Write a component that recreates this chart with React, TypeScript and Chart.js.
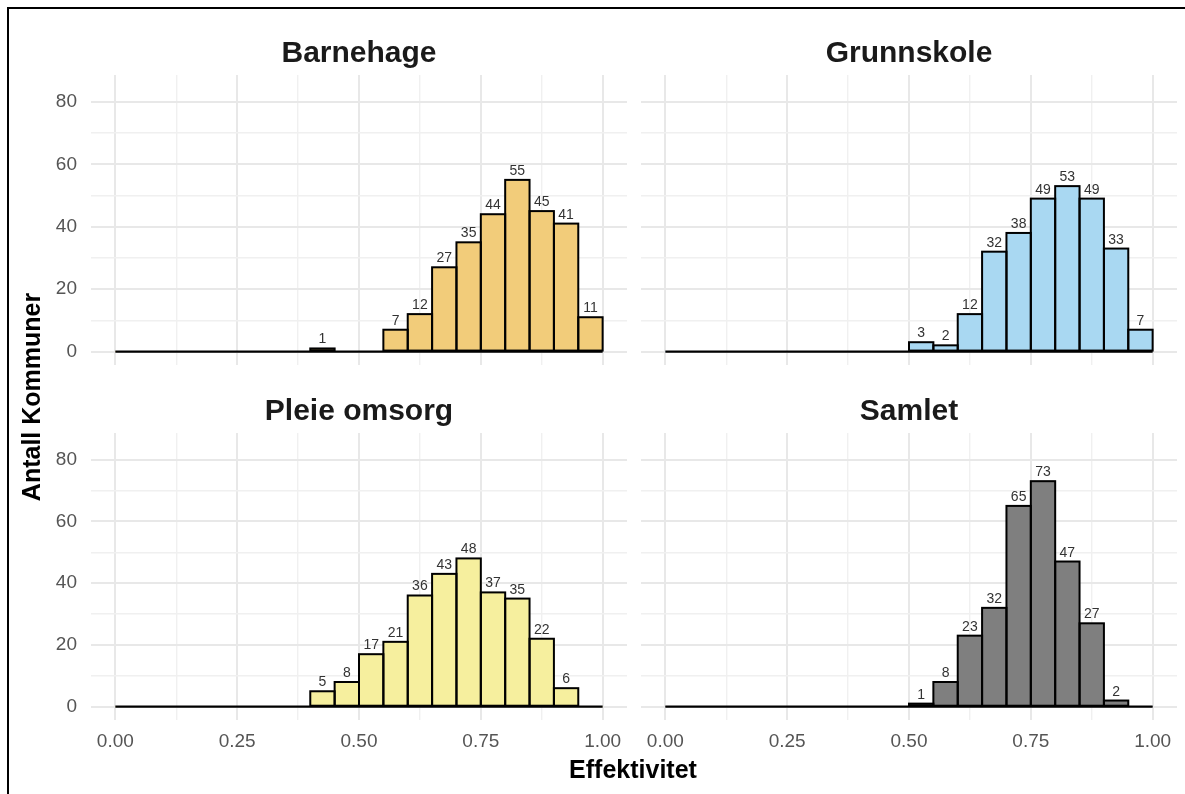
import React, { useEffect, useRef } from "react";
import { Chart, registerables } from "chart.js";

Chart.register(...registerables);

// ---------- data ----------
const binStart = [
  0.0, 0.05, 0.1, 0.15, 0.2, 0.25, 0.3, 0.35, 0.4, 0.45,
  0.5, 0.55, 0.6, 0.65, 0.7, 0.75, 0.8, 0.85, 0.9, 0.95,
];
const binWidth = 0.05;

const barnehageCounts = [0, 0, 0, 0, 0, 0, 0, 0, 1, 0, 0, 7, 12, 27, 35, 44, 55, 45, 41, 11];
const grunnskoleCounts = [0, 0, 0, 0, 0, 0, 0, 0, 0, 0, 3, 2, 12, 32, 38, 49, 53, 49, 33, 7];
const pleieOmsorgCounts = [0, 0, 0, 0, 0, 0, 0, 0, 5, 8, 17, 21, 36, 43, 48, 37, 35, 22, 6, 0];
const samletCounts = [0, 0, 0, 0, 0, 0, 0, 0, 0, 0, 1, 8, 23, 32, 65, 73, 47, 27, 2, 0];

const panelTitles = ["Barnehage", "Grunnskole", "Pleie omsorg", "Samlet"];
const panelCounts = [barnehageCounts, grunnskoleCounts, pleieOmsorgCounts, samletCounts];
const panelColors = ["#F2CC7A", "#A9D8F2", "#F6EF9E", "#7F7F7F"];

const xTickValues = [0, 0.125, 0.25, 0.375, 0.5, 0.625, 0.75, 0.875, 1];
const xTickLabels = ["0.00", "", "0.25", "", "0.50", "", "0.75", "", "1.00"];
const yTickValues = [0, 10, 20, 30, 40, 50, 60, 70, 80];
const yTickLabels = ["0", "", "20", "", "40", "", "60", "", "80"];

const xAxisTitle = "Effektivitet";
const yAxisTitle = "Antall Kommuner";

// ---------- layout (styles only) ----------
const W = 1185;
const H = 794;
const Y_W = 60;
const X_H = 50;
const FONT = '"Liberation Sans", Arial, Helvetica, sans-serif';

const PANELS = [
  { left: 91, right: 627, top: 75, bottom: 365, showX: false, showY: true },
  { left: 641, right: 1177, top: 75, bottom: 365, showX: false, showY: false },
  { left: 91, right: 627, top: 433, bottom: 720, showX: true, showY: true },
  { left: 641, right: 1177, top: 433, bottom: 720, showX: true, showY: false },
];

function PanelChart({ idx }: { idx: number }) {
  const ref = useRef<HTMLCanvasElement | null>(null);

  useEffect(() => {
    const canvas = ref.current;
    if (!canvas) return;
    const p = PANELS[idx];
    const counts = panelCounts[idx];
    const title = panelTitles[idx];

    const decor = {
      id: "panelDecor" + idx,
      afterDatasetsDraw(chart: any) {
        const ctx = chart.ctx;
        const area = chart.chartArea;
        const meta = chart.getDatasetMeta(0);
        ctx.save();
        // bar outlines, centred on the bar edges
        ctx.strokeStyle = "#000000";
        ctx.lineWidth = 2;
        ctx.lineJoin = "miter";
        meta.data.forEach((el: any, i: number) => {
          if (counts[i] > 0) {
            const w = el.width;
            ctx.strokeRect(el.x - w / 2, el.y, w, el.base - el.y);
          }
        });
        // count labels
        ctx.font = `14px ${FONT}`;
        ctx.fillStyle = "#333333";
        ctx.textAlign = "center";
        ctx.textBaseline = "alphabetic";
        meta.data.forEach((el: any, i: number) => {
          const v = counts[i];
          if (v > 0) ctx.fillText(String(v), el.x, el.y - 5);
        });
        // panel title
        ctx.font = `bold 30px ${FONT}`;
        ctx.fillStyle = "#1A1A1A";
        ctx.fillText(title, (area.left + area.right) / 2, area.top - 13);
        if (idx === 2) {
          ctx.fillStyle = "#000000";
          ctx.font = `bold 25px ${FONT}`;
          ctx.textBaseline = "middle";
          ctx.fillText(xAxisTitle, 633, 771);
          ctx.save();
          ctx.translate(33, 397);
          ctx.rotate(-Math.PI / 2);
          ctx.fillText(yAxisTitle, 0, 0);
          ctx.restore();
        }
        ctx.restore();
      },
    };

    const lineStart = binStart[0];
    const lineEnd = binStart[binStart.length - 1] + binWidth;

    const chart = new Chart(canvas, {
      type: "bar",
      data: {
        datasets: [
          {
            type: "bar",
            data: binStart.map((s, i) => ({ x: s + binWidth / 2, y: counts[i] })),
            backgroundColor: panelColors[idx],
            borderWidth: 0,
            barPercentage: 1,
            categoryPercentage: 1,
            order: 1,
          } as any,
          {
            type: "line",
            data: [
              { x: lineStart, y: 0 },
              { x: lineEnd, y: 0 },
            ],
            borderColor: "#000000",
            borderWidth: 2.2,
            pointRadius: 0,
            order: 0,
          } as any,
        ],
      },
      options: {
        responsive: false,
        animation: false,
        devicePixelRatio: 1,
        layout: {
          padding: {
            left: p.left - Y_W,
            right: W - p.right,
            top: p.top,
            bottom: H - p.bottom - X_H,
          },
        },
        plugins: {
          legend: { display: false },
          title: { display: false },
          tooltip: { enabled: false },
        },
        scales: {
          x: {
            type: "linear",
            min: -0.05,
            max: 1.05,
            offset: false,
            afterBuildTicks: (scale: any) => {
              scale.ticks = xTickValues.map((v) => ({ value: v }));
            },
            afterFit: (scale: any) => {
              scale.height = X_H;
              scale.paddingLeft = 0;
              scale.paddingRight = 0;
            },
            grid: {
              offset: false,
              drawTicks: false,
              color: (c: any) => (xTickLabels[c.index] ? "#E8E8E8" : "#F0F0F0"),
              lineWidth: (c: any) => (xTickLabels[c.index] ? 2 : 1.4),
            },
            border: { display: false },
            ticks: {
              display: p.showX,
              autoSkip: false,
              maxRotation: 0,
              padding: 10,
              color: "#555555",
              font: { family: FONT, size: 19 },
              callback: (_v: any, i: number) => xTickLabels[i],
            },
          } as any,
          y: {
            type: "linear",
            min: -4.3,
            max: 88.6,
            afterBuildTicks: (scale: any) => {
              scale.ticks = yTickValues.map((v) => ({ value: v }));
            },
            afterFit: (scale: any) => {
              scale.width = Y_W;
            },
            grid: {
              drawTicks: false,
              color: (c: any) => (yTickLabels[c.index] ? "#E8E8E8" : "#F0F0F0"),
              lineWidth: (c: any) => (yTickLabels[c.index] ? 2 : 1.4),
            },
            border: { display: false },
            ticks: {
              display: p.showY,
              autoSkip: false,
              padding: 14,
              color: "#555555",
              font: { family: FONT, size: 19 },
              callback: (_v: any, i: number) => yTickLabels[i],
            },
          } as any,
        },
      },
      plugins: [decor as any],
    });

    return () => chart.destroy();
  }, [idx]);

  return (
    <canvas
      ref={ref}
      width={W}
      height={H}
      style={{ position: "absolute", left: 0, top: 0, width: W, height: H }}
    />
  );
}

export default function App() {
  return (
    <div
      style={{
        position: "absolute",
        left: 0,
        top: 0,
        width: W,
        height: H,
        background: "#ffffff",
        overflow: "hidden",
      }}
    >
      <div
        style={{
          position: "absolute",
          left: 7,
          top: 7,
          right: 0,
          bottom: 0,
          borderTop: "2px solid #000",
          borderLeft: "2px solid #000",
        }}
      />
      {PANELS.map((_, i) => (
        <PanelChart key={i} idx={i} />
      ))}
    </div>
  );
}
